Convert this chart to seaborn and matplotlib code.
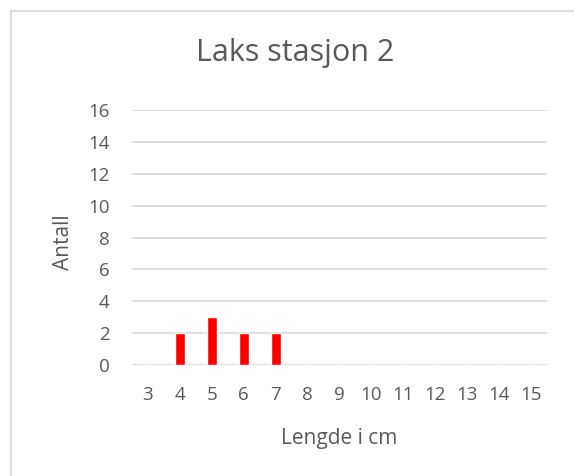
import pandas as pd
import seaborn as sns
import matplotlib.pyplot as plt
from matplotlib.patches import Rectangle

# Data
lengths = [3, 4, 5, 6, 7, 8, 9, 10, 11, 12, 13, 14, 15]
counts = [0, 2, 3, 2, 2, 0, 0, 0, 0, 0, 0, 0, 0]

df = pd.DataFrame({'Lengde': [str(x) for x in lengths], 'Antall': counts})

sns.set_style("white")
plt.rcParams['font.family'] = ['Open Sans', 'DejaVu Sans']

txt = '#595959'

fig = plt.figure(figsize=(5.74, 4.76), dpi=100)
ax = fig.add_axes([0.230, 0.233, 0.723, 0.536])

# Chart border (Excel style)
fig.patches.append(Rectangle((11 / 574, -0.1), 1.2, 1 - 11 / 476 + 0.1,
                             transform=fig.transFigure, fill=False,
                             edgecolor='#d9d9d9', linewidth=1.3))

sns.barplot(data=df, x='Lengde', y='Antall', color='#ff0000', width=0.32,
            saturation=1, ax=ax, zorder=3)

ax.set_ylim(0, 16)
ax.set_yticks(range(0, 17, 2))
ax.set_xlim(-0.5, len(lengths) - 0.5)
ax.yaxis.grid(True, color='#d9d9d9', linewidth=1.2, zorder=0)
ax.set_axisbelow(True)
for s in ax.spines.values():
    s.set_visible(False)

ax.tick_params(axis='both', length=0, labelsize=13.5, colors=txt)
ax.tick_params(axis='x', pad=15)
ax.tick_params(axis='y', pad=16)

ax.set_xlabel('Lengde i cm', fontsize=15, color=txt, va='center')
ax.xaxis.set_label_coords(0.499, -0.286)
ax.set_ylabel('Antall', fontsize=15, color=txt, va='center')
ax.yaxis.set_label_coords(-0.165, 0.48)
fig.text(0.514, 0.889, 'Laks stasjon 2', ha='center', va='center',
         fontsize=22, color=txt)

fig.savefig('out.png', dpi=100)
